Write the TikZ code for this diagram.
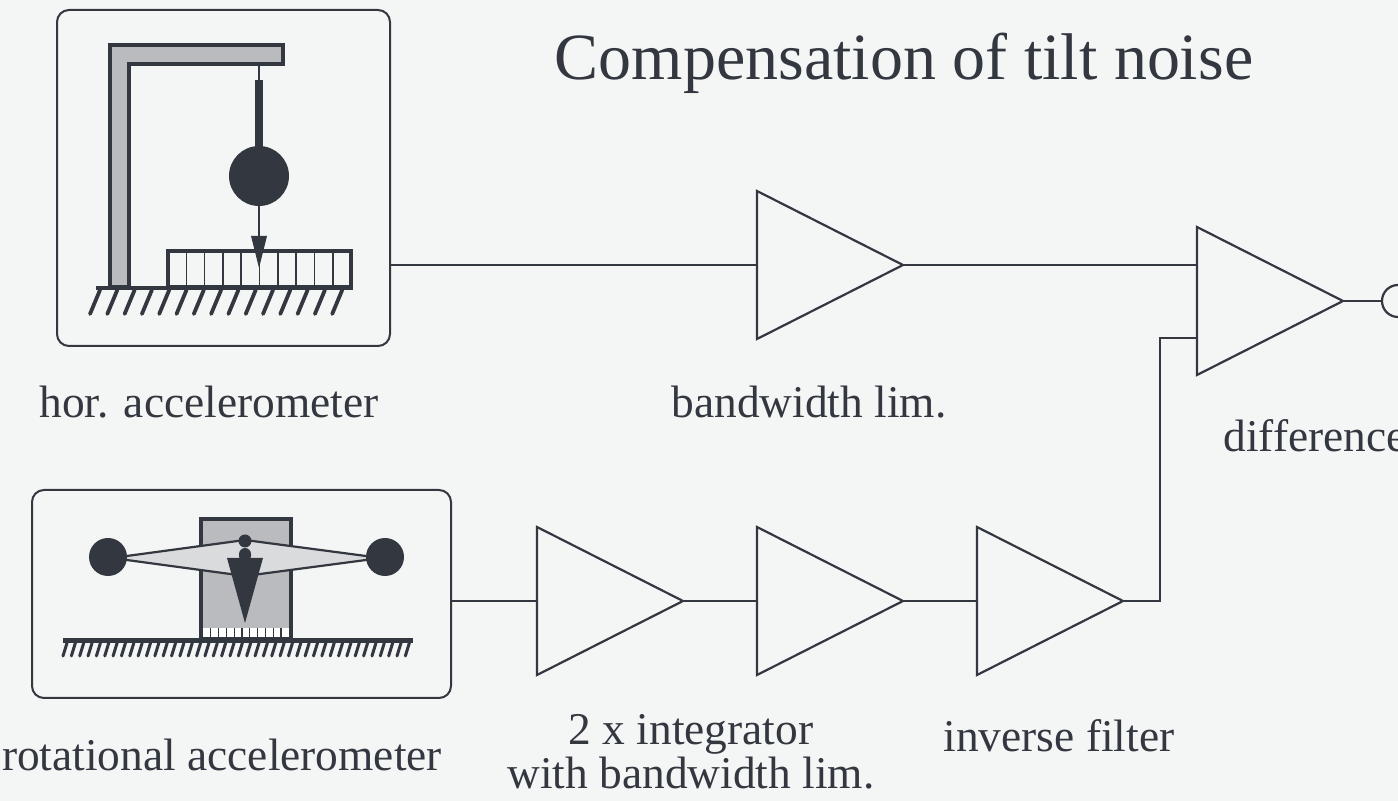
\documentclass[tikz,border=0pt]{standalone}
\usepackage{fontspec}
\setmainfont{Liberation Serif}
\usetikzlibrary{shapes.geometric,calc}
\definecolor{ink}{HTML}{33373F}
\definecolor{paper}{HTML}{F4F5F5}
\definecolor{steel}{HTML}{B9BBBE}
\definecolor{beamgray}{HTML}{D9DBDC}
\tikzset{
  amp/.style={isosceles triangle, isosceles triangle stretches, shape border rotate=0,
    draw=ink, line width=1.1pt, minimum width=74pt, minimum height=73pt,
    inner sep=0pt, outer sep=0pt, anchor=west},
  panel/.style={draw=ink, line width=1pt, rounded corners=6pt, inner sep=0pt},
  wire/.style={draw=ink, line width=1.1pt},
  lbl/.style={text=ink, font=\fontsize{22.7}{18}\selectfont, inner sep=0pt, anchor=base},
  heavy/.style={draw=ink, line width=2.2pt},
  hatch/.style={draw=ink, line width=1.9pt, line cap=round},
}
\begin{document}
\begin{tikzpicture}[x=0.5pt,y=-0.5pt]
\useasboundingbox (0,0) rectangle (1398,801);
\fill[paper] (0,0) rectangle (1398,801);

% title
\node[lbl, font=\fontsize{33}{36}\selectfont] (title) at (904,80) {Compensation of tilt noise};

% ---------- horizontal accelerometer ----------
\node[panel, minimum width=166.5pt, minimum height=168pt] (hacc) at (223.5,178) {};
% gallows
\filldraw[fill=steel, heavy] (110,287) -- (110,45) -- (283,45) -- (283,64) -- (129,64) -- (129,287) -- cycle;
% pendulum
\draw[ink, line width=0.8pt] (259,64) -- (259,82);
\fill[ink] (255,80) rectangle (263,152);
\fill[ink] (259,176) circle (30);
\draw[ink, line width=0.8pt] (259,205) -- (259,240);
\fill[ink] (251,236) -- (267,236) -- (259,268) -- cycle;
% sensor comb
\draw[heavy] (168,251) rectangle (351,287);
\foreach \i in {1,...,9} \draw[ink, line width=0.8pt] (168+18.3*\i,251) -- (168+18.3*\i,287);
% ground
\draw[heavy] (96,288) -- (353,288);
\foreach \i in {0,...,14} \draw[hatch] (100+17.3*\i,290) -- (90+17.3*\i,314);

% ---------- rotational accelerometer ----------
\node[panel, minimum width=209.5pt, minimum height=104pt] (racc) at (241.5,594) {};
% housing
\filldraw[fill=steel, heavy] (201,519) rectangle (291,639);
\fill[white] (203,628) rectangle (289,637);
\foreach \i in {1,...,10} \draw[ink, line width=0.6pt] (203+7.8*\i,628) -- (203+7.8*\i,637);
% ground
\draw[ink, line width=2.5pt] (63,641) -- (413,641);
\foreach \i in {0,...,41} \draw[ink, line width=1.5pt, line cap=round] (67+8.35*\i,643) -- (63+8.35*\i,656);
% beam
\filldraw[fill=beamgray, draw=ink, line width=1.1pt] (112,558) -- (245,540) -- (381,558) -- (245,576) -- cycle;
\fill[ink] (108,557) circle (19);
\fill[ink] (385,557) circle (19);
% pendulum body
\fill[ink, rounded corners=3pt] (239,548) rectangle (251,562);
\fill[ink] (227,558) -- (263,558) -- (245,623) -- cycle;
\fill[ink] (245,541) circle (6.5);

% ---------- signal chain ----------
\node[amp] (bw) at (757,265) {};
\node[amp] (int1) at (537,601) {};
\node[amp] (int2) at (757,601) {};
\node[amp] (inv) at (977,601) {};
\node[amp] (diff) at (1197,301) {};
\coordinate (din1) at ($(diff.west)+(0,-37)$);
\coordinate (din2) at ($(diff.west)+(0,37)$);
\node[draw=ink, line width=1.1pt, circle, minimum size=16pt, inner sep=0pt] (out) at (1398,301) {};

\draw[wire] (bw.west -| hacc.east) -- (bw.west);
\draw[wire] (bw.apex) -- (bw.apex -| din1);
\draw[wire] (int1.west -| racc.east) -- (int1.west);
\draw[wire] (int1.apex) -- (int2.west);
\draw[wire] (int2.apex) -- (inv.west);
\draw[wire] (inv.apex) -- ++(37,0) |- (din2);
\draw[wire] (diff.apex) -- (out.west);

% labels
\node[lbl] (l1) at (209,418) {hor. accelerometer};
\node[lbl] (l2) at (809,418) {bandwidth lim.};
\node[lbl, anchor=base west] (l3) at (1223,452) {difference};
\node[lbl] (l4) at (222,770) {rotational accelerometer};
\node[lbl, align=center, anchor=base] (l5) at (691,788) {2 x integrator\\with bandwidth lim.};
\node[lbl] (l7) at (1059,752) {inverse filter};
\end{tikzpicture}
\end{document}
